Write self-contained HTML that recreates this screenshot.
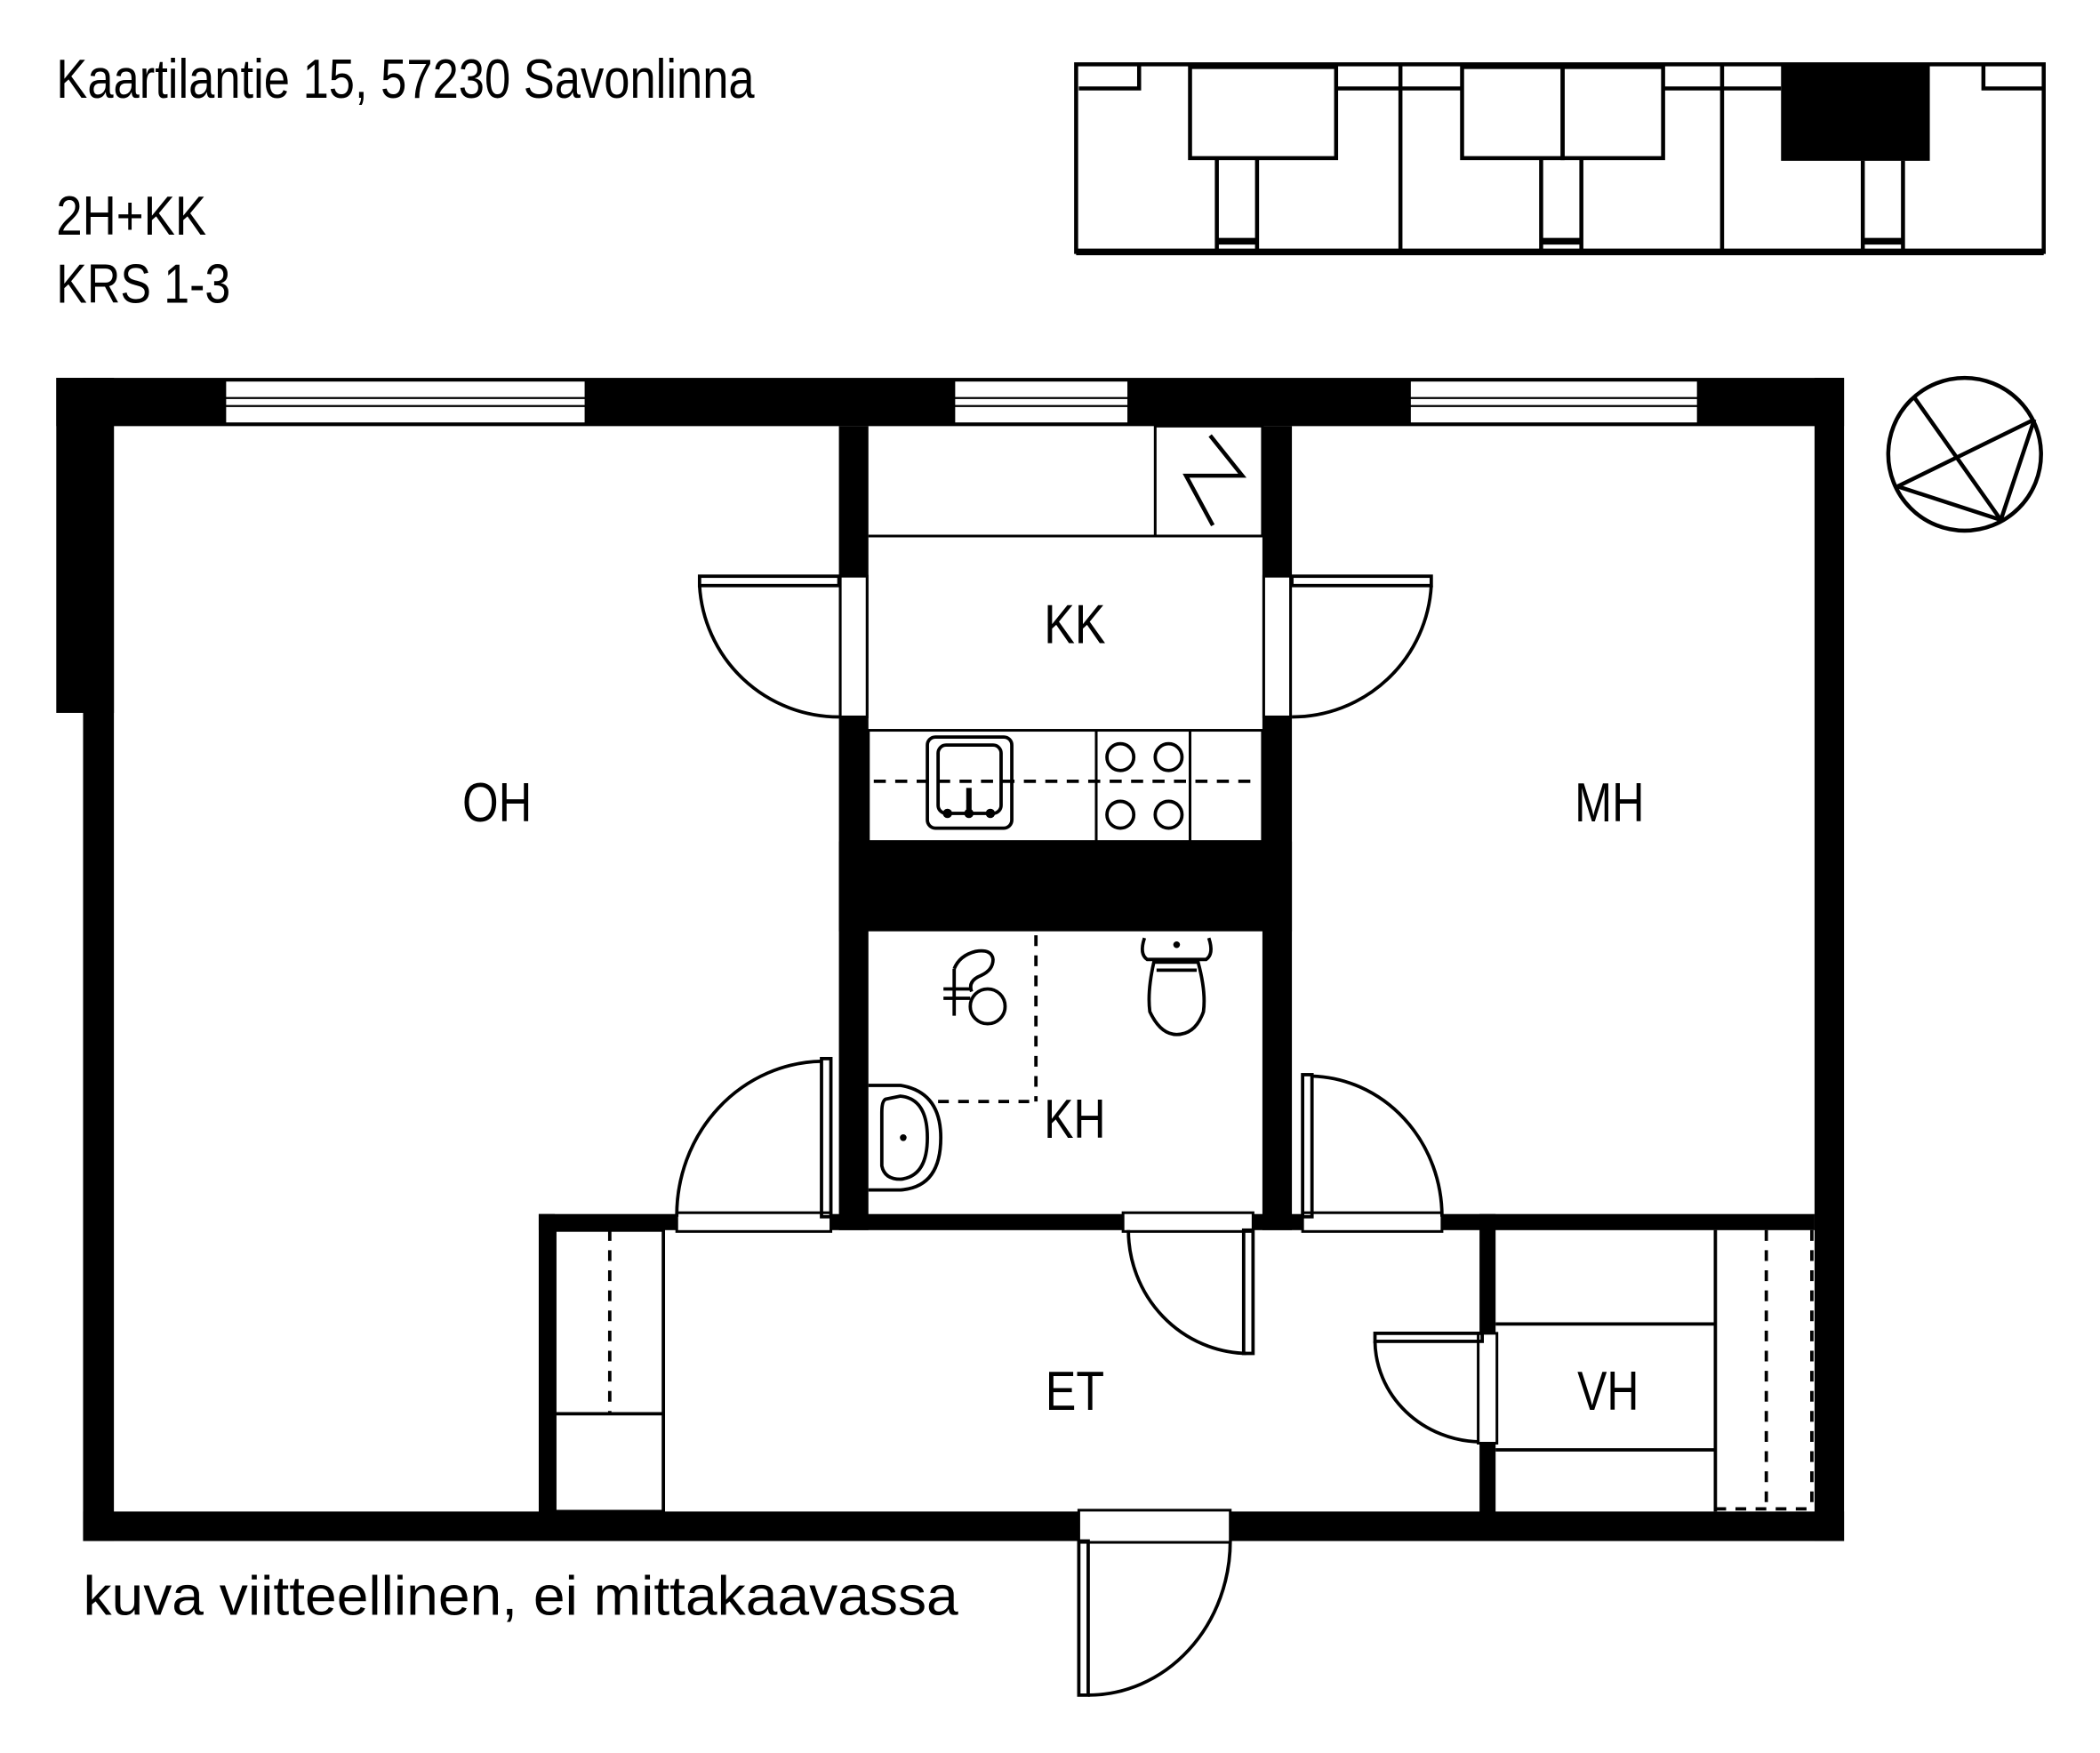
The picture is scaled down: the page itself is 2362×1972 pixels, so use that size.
<!DOCTYPE html>
<html><head><meta charset="utf-8"><style>
html,body{margin:0;padding:0;background:#fff;}
svg{display:block;}
text{font-family:"Liberation Sans",sans-serif;fill:#000;}
</style></head><body>
<svg width="2362" height="1972" viewBox="0 0 1567 1308.2" preserveAspectRatio="none" xmlns="http://www.w3.org/2000/svg">
<rect width="1600" height="1320" fill="#fff"/>
<!-- header text -->
<text x="42" y="73" font-size="41" textLength="521" lengthAdjust="spacingAndGlyphs">Kaartilantie 15, 57230 Savonlinna</text>
<text x="42" y="175" font-size="41" textLength="112" lengthAdjust="spacingAndGlyphs">2H+KK</text>
<text x="42" y="226" font-size="41" textLength="130" lengthAdjust="spacingAndGlyphs">KRS 1-3</text>
<text x="62" y="1205" font-size="41" textLength="653" lengthAdjust="spacingAndGlyphs">kuva viitteellinen, ei mittakaavassa</text>

<!-- key plan -->
<g fill="none" stroke="#000" stroke-width="3">
<rect x="803" y="48" width="722" height="140" stroke-width="3"/>
<line x1="803" y1="188" x2="1525" y2="188" stroke-width="5"/>
<rect x="888" y="50" width="109" height="68"/>
<rect x="1091" y="50" width="75" height="68"/>
<rect x="1166" y="50" width="75" height="68"/>
<line x1="1045" y1="48" x2="1045" y2="188"/>
<line x1="1285" y1="48" x2="1285" y2="188"/>
<polyline points="805,66 850,66 850,48"/>
<line x1="997" y1="66" x2="1045" y2="66"/>
<line x1="1045" y1="66" x2="1091" y2="66"/>
<line x1="1241" y1="66" x2="1285" y2="66"/>
<line x1="1285" y1="66" x2="1329" y2="66"/>
<polyline points="1525,66 1480,66 1480,48"/>
<polyline points="908,118 908,188"/>
<polyline points="938,118 938,188"/>
<line x1="908" y1="180" x2="938" y2="180" stroke-width="5"/>
<polyline points="1150,118 1150,188"/>
<polyline points="1180,118 1180,188"/>
<line x1="1150" y1="180" x2="1180" y2="180" stroke-width="5"/>
<polyline points="1390,120 1390,188"/>
<polyline points="1420,120 1420,188"/>
<line x1="1390" y1="180" x2="1420" y2="180" stroke-width="5"/>
</g>
<rect x="1329" y="48" width="111" height="72" fill="#000"/>

<!-- compass -->
<g fill="none" stroke="#000" stroke-width="3">
<circle cx="1466" cy="339" r="57"/>
<line x1="1428" y1="296" x2="1493" y2="388"/>
<line x1="1518" y1="313" x2="1416" y2="363"/>
<polyline points="1416,363 1493,388 1518,313"/>
</g>

<!-- outer walls -->
<g fill="#000">
<rect x="42" y="282" width="1334" height="36"/>
<rect x="42" y="282" width="43" height="250"/>
<rect x="62" y="282" width="23" height="868"/>
<rect x="62" y="1128" width="1314" height="22"/>
<rect x="1354" y="282" width="22" height="868"/>
<rect x="626" y="318" width="22" height="600"/>
<rect x="942" y="318" width="22" height="600"/>
<rect x="626" y="628" width="338" height="67"/>
<rect x="402" y="906" width="952" height="12"/>
<rect x="402" y="906" width="12" height="230"/>
<rect x="1104" y="906" width="12" height="230"/>
</g>

<!-- windows -->
<g fill="#fff" stroke="#000" stroke-width="1.5">
<rect x="168" y="284" width="269" height="32"/>
<rect x="712" y="284" width="130" height="32"/>
<rect x="1052" y="284" width="215" height="32"/>
</g>
<g stroke="#000" stroke-width="1.5">
<line x1="168" y1="297" x2="437" y2="297"/><line x1="168" y1="303" x2="437" y2="303"/>
<line x1="712" y1="297" x2="842" y2="297"/><line x1="712" y1="303" x2="842" y2="303"/>
<line x1="1052" y1="297" x2="1267" y2="297"/><line x1="1052" y1="303" x2="1267" y2="303"/>
</g>

<!-- door openings -->
<g fill="#fff" stroke="#000" stroke-width="2">
<rect x="627" y="430" width="20" height="105"/>
<rect x="943" y="430" width="20" height="105"/>
<rect x="505" y="905" width="115" height="14"/>
<rect x="972" y="905" width="104" height="14"/>
<rect x="838" y="905" width="97" height="14"/>
<rect x="1103" y="995" width="14" height="82"/>
<rect x="805" y="1127" width="113" height="24"/>
</g>

<!-- door leaves & arcs -->
<g fill="none" stroke="#000" stroke-width="2.5">
<rect x="522" y="430" width="104" height="7"/>
<path d="M522,437 A104,104 0 0 0 626,535"/>
<rect x="964" y="430" width="104" height="7"/>
<path d="M1068,437 A104,104 0 0 1 964,535"/>
<rect x="613" y="790" width="7" height="118"/>
<path d="M613,792 A110,115 0 0 0 505,908"/>
<rect x="972" y="802" width="7" height="106"/>
<path d="M979,803 A100,105 0 0 1 1076,908"/>
<rect x="928" y="918" width="7" height="92"/>
<path d="M842,918 A90,92 0 0 0 930,1010"/>
<rect x="1026" y="995" width="80" height="6"/>
<path d="M1026,1001 A80,76 0 0 0 1104,1076"/>
<rect x="805" y="1150" width="7" height="115"/>
<path d="M812,1265 A106,115 0 0 0 918,1150"/>
</g>

<!-- kitchen -->
<g fill="none" stroke="#000" stroke-width="2">
<line x1="648" y1="400" x2="942" y2="400"/>
<rect x="862" y="318" width="80" height="82"/>
<polyline points="903,325 927,355 885,355 905,392" stroke-width="3"/>
<rect x="648" y="545" width="294" height="83"/>
<line x1="818" y1="545" x2="818" y2="628"/>
<line x1="888" y1="545" x2="888" y2="628"/>
<line x1="652" y1="583" x2="940" y2="583" stroke-dasharray="9,7" stroke-width="2.5"/>
<rect x="692" y="550" width="63" height="68" rx="6" stroke-width="2.5"/>
<rect x="700" y="556" width="47" height="51" rx="6" stroke-width="2.5"/>
<circle cx="836" cy="565" r="10" stroke-width="2.5"/>
<circle cx="872" cy="565" r="10" stroke-width="2.5"/>
<circle cx="836" cy="608" r="10" stroke-width="2.5"/>
<circle cx="872" cy="608" r="10" stroke-width="2.5"/>
</g>
<g fill="#000">
<rect x="721" y="588" width="4" height="18"/>
<circle cx="707" cy="607" r="3.5"/><circle cx="723" cy="607" r="3.5"/><circle cx="739" cy="607" r="3.5"/>
</g>

<!-- bathroom -->
<g fill="none" stroke="#000" stroke-width="2.5">
<line x1="773" y1="698" x2="773" y2="822" stroke-dasharray="8,7"/>
<line x1="700" y1="822" x2="773" y2="822" stroke-dasharray="8,7"/>
<path d="M648,810 L672,810 Q702,815 702,849 Q702,886 672,888 L648,888"/>
<path d="M662,820 Q658,820 658,830 L658,870 Q660,880 672,880 Q692,878 692,849 Q692,820 672,818 Z"/>
<path d="M854,700 Q850,712 856,716 L900,716 Q906,712 902,700"/>
<path d="M861,718 Q856,740 858,755 Q866,772 878,772 Q892,772 898,755 Q900,740 894,718 Z"/>
<path d="M863,724 L893,724"/>
<line x1="712" y1="723" x2="712" y2="758"/>
<line x1="704" y1="738" x2="724" y2="738"/>
<line x1="704" y1="745" x2="724" y2="745"/>
<path d="M712,723 Q716,713 728,710 Q740,708 741,716 Q741,724 732,728 Q722,732 725,740"/>
<ellipse cx="737" cy="751" rx="13" ry="13"/>
</g>
<circle cx="878" cy="705" r="2.5" fill="#000"/>
<circle cx="674" cy="849" r="2.5" fill="#000"/>

<!-- closet in ET -->
<g fill="none" stroke="#000" stroke-width="2.5">
<rect x="414" y="918" width="81" height="210"/>
<line x1="414" y1="1055" x2="495" y2="1055"/>
<line x1="455" y1="918" x2="455" y2="1055" stroke-dasharray="8,7"/>
</g>

<!-- VH -->
<g fill="none" stroke="#000" stroke-width="2.5">
<line x1="1116" y1="988" x2="1280" y2="988"/>
<line x1="1116" y1="1082" x2="1280" y2="1082"/>
<line x1="1280" y1="918" x2="1280" y2="1128"/>
<line x1="1318" y1="918" x2="1318" y2="1128" stroke-dasharray="8,7"/>
<line x1="1352" y1="918" x2="1352" y2="1128" stroke-dasharray="8,7"/>
<line x1="1280" y1="1126" x2="1352" y2="1126" stroke-dasharray="8,7"/>
</g>

<!-- room labels -->
<g font-size="41">
<text x="345" y="613" textLength="52" lengthAdjust="spacingAndGlyphs">OH</text>
<text x="779" y="480" textLength="46" lengthAdjust="spacingAndGlyphs">KK</text>
<text x="1175" y="613" textLength="52" lengthAdjust="spacingAndGlyphs">MH</text>
<text x="779" y="849" textLength="46" lengthAdjust="spacingAndGlyphs">KH</text>
<text x="780" y="1052" textLength="44" lengthAdjust="spacingAndGlyphs">ET</text>
<text x="1177" y="1052" textLength="46" lengthAdjust="spacingAndGlyphs">VH</text>
</g>
</svg>
</body></html>
